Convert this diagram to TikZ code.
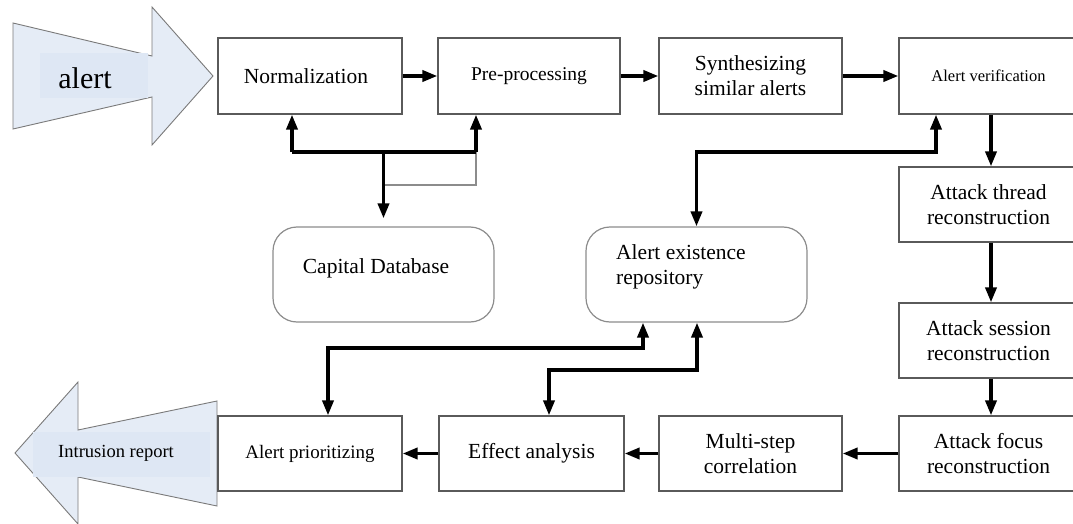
\documentclass[tikz,border=0pt]{standalone}
\usepackage{fontspec}
\setmainfont{Liberation Serif}
\usetikzlibrary{arrows.meta,calc}
\definecolor{arrfill}{HTML}{E5ECF6}
\definecolor{arrinner}{HTML}{DEE7F4}
\definecolor{arrline}{HTML}{7A7A7A}
\definecolor{boxline}{HTML}{5A5A5A}
\definecolor{rline}{HTML}{8C8C8C}
\begin{document}
\begin{tikzpicture}[x=1pt,y=-1pt,
  font=\fontsize{21.5}{25}\selectfont,
  box/.style={draw=boxline,line width=1.2pt,inner sep=0pt,align=center,minimum height=76pt},
  rbox/.style={draw=rline,line width=1.2pt,rounded corners=24pt,inner sep=0pt,minimum width=221pt,minimum height=95pt},
  txt/.style={inner sep=0pt,align=left},
  conn/.style={line width=3.5pt,-{Triangle[length=15pt,width=11pt]}},
  bconn/.style={line width=3.5pt,{Triangle[length=15pt,width=11pt]}-{Triangle[length=15pt,width=11pt]}},
  bus/.style={line width=3.5pt},
  thinl/.style={draw=rline,line width=1.1pt},
  bigarrow/.style={fill=arrfill,draw=arrline,line width=0.9pt,line join=miter}]
\useasboundingbox (0,0) rectangle (1073,524);

% big arrows
\draw[bigarrow] (13,23) -- (152,56) -- (152,7) -- (213,76) -- (152,145) -- (152,97) -- (13,129) -- cycle;
\fill[arrinner] (40,53) rectangle (148,98);
\node[inner sep=0pt,font=\fontsize{30}{32}\selectfont] (alert) at (85,78) {alert};

\draw[bigarrow] (217,401) -- (78,430) -- (78,382) -- (15,453) -- (78,524) -- (78,477) -- (217,506) -- cycle;
\fill[arrinner] (33,432) rectangle (210,477);
\node[inner sep=0pt,font=\fontsize{18.5}{20}\selectfont] (intr) at (116,453) {Intrusion report};

% boxes
\node[box,minimum width=184pt] (norm) at (310,76) {Normalization\hspace*{8pt}};
\node[box,minimum width=182pt,font=\fontsize{19.5}{23}\selectfont] (pre) at (529,76) {Pre-processing};
\node[box,minimum width=183pt] (syn) at (750.5,76) {Synthesizing\\similar alerts};
\node[box,minimum width=179pt,font=\fontsize{16.5}{20}\selectfont] (ver) at (988.5,76) {Alert verification};
\node[box,minimum width=179pt,minimum height=75pt] (thr) at (988.5,204.5) {Attack thread\\reconstruction};
\node[box,minimum width=179pt,minimum height=75pt] (ses) at (988.5,340.5) {Attack session\\reconstruction};
\node[box,minimum width=179pt,minimum height=75pt] (foc) at (988.5,453.5) {Attack focus\\reconstruction};
\node[box,minimum width=183pt,minimum height=75pt] (mul) at (750.5,453.5) {Multi-step\\correlation};
\node[box,minimum width=185pt,minimum height=75pt] (eff) at (531.5,453.5) {Effect analysis};
\node[box,minimum width=184pt,minimum height=75pt,font=\fontsize{19}{22}\selectfont] (pri) at (310,453.5) {Alert prioritizing};

\node[rbox] (cap) at (383.5,274.5) {};
\node[txt] (capt) at (376,268) {Capital Database};
\node[rbox] (aer) at (696.5,274.5) {};
\node[txt,anchor=west] (aert) at (616,267) {Alert existence\\repository};

% main flow
\draw[conn] (norm) -- (pre);
\draw[conn] (pre) -- (syn);
\draw[conn] (syn) -- (ver);
\draw[conn] (ver.south -| 991,0) -- (thr.north -| 991,0);
\draw[conn] (thr.south -| 991,0) -- (ses.north -| 991,0);
\draw[conn] (ses.south -| 991,0) -- (foc.north -| 991,0);
\draw[conn] (foc) -- (mul);
\draw[conn] (mul) -- (eff);
\draw[conn] (eff) -- (pri);

% capital database bus
\coordinate (busL) at (292,152);
\coordinate (busR) at (476,152);
\coordinate (busM) at (383.5,152);
\coordinate (thinc) at (383.5,185);
\draw[thinl] (thinc) -| (busR);
\draw[bus] (busL) -- (busR);
\draw[conn] (busL) -- (busL |- norm.south);
\draw[conn] (busR) -- (busR |- pre.south);
\draw[conn,shorten >=8pt] (busM) -- (cap.north);

% alert existence repository links
\coordinate (vk) at (936,152);
\draw[bconn] (aer.north) |- (vk) -- (vk |- ver.south);
\coordinate (p1) at (643,348);
\coordinate (p2) at (328,348);
\draw[bconn] (p1 |- aer.south) -- (p1) -- (p2) -- (p2 |- pri.north);
\coordinate (e1) at (697,370);
\coordinate (e2) at (549,370);
\draw[bconn] (e1 |- aer.south) -- (e1) -- (e2) -- (e2 |- eff.north);
\end{tikzpicture}
\end{document}
